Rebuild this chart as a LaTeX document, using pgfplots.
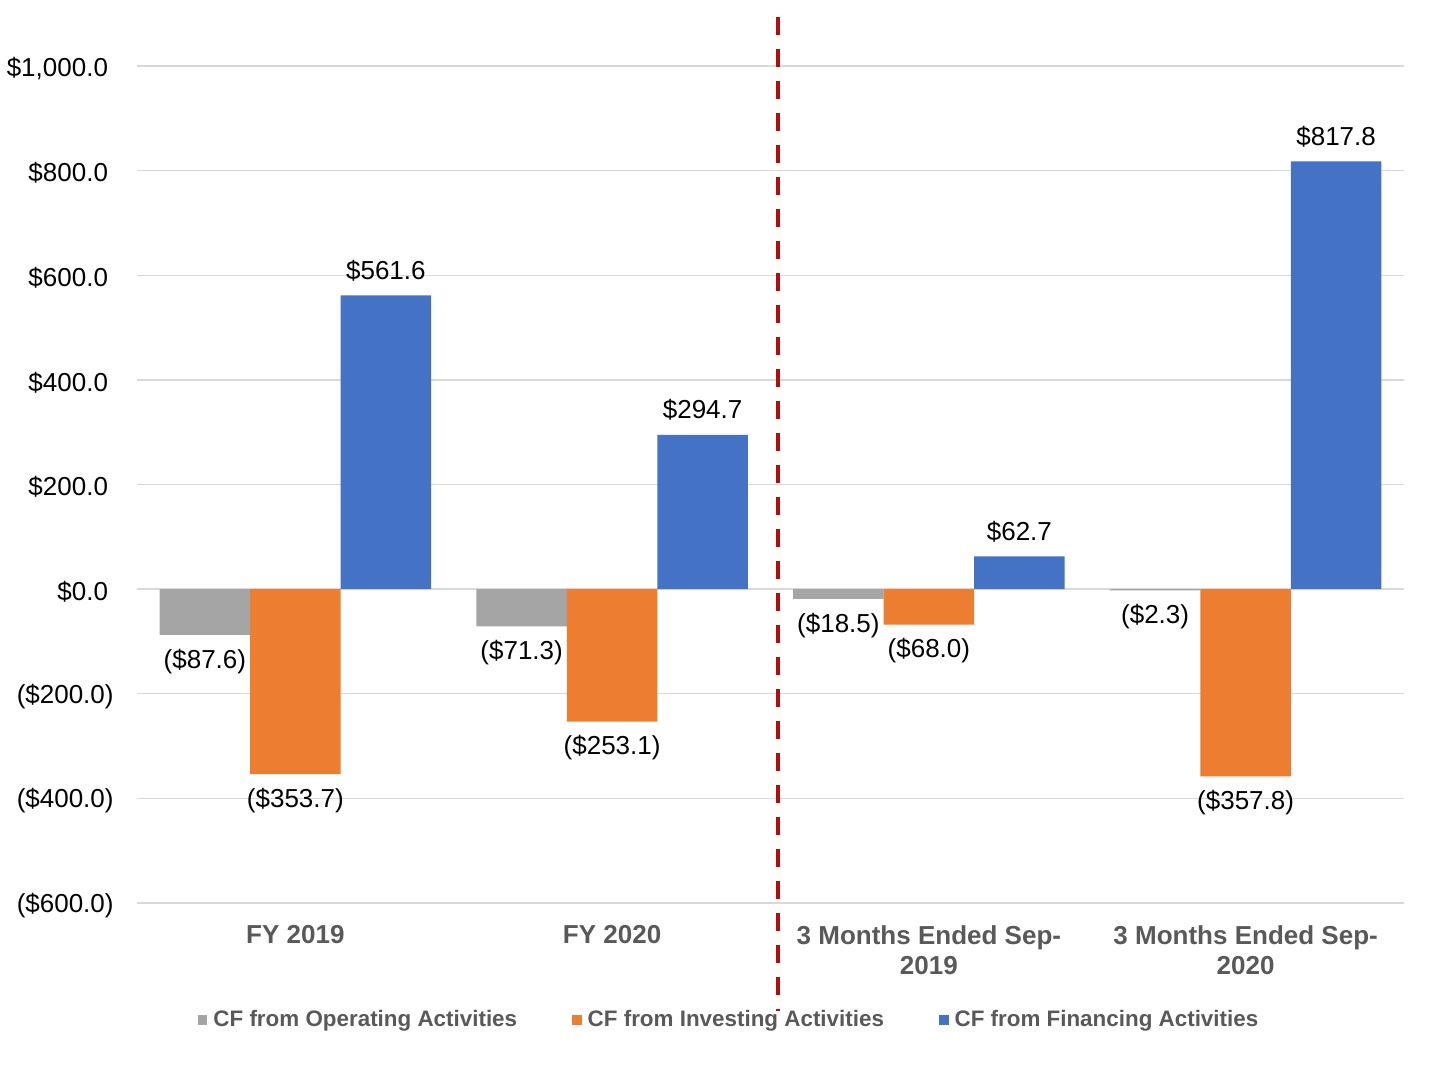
\documentclass[border=0pt]{standalone}
\usepackage{fontspec}
\setmainfont{Liberation Sans}
\usepackage{pgfplots}
\usepackage{pgfplotstable}
\pgfplotsset{compat=1.18}

\definecolor{opgray}{HTML}{A5A5A5}
\definecolor{invorange}{HTML}{ED7D31}
\definecolor{finblue}{HTML}{4472C4}
\definecolor{divred}{HTML}{B40D0D}
\definecolor{gridgray}{HTML}{D9D9D9}
\definecolor{labelgray}{HTML}{595959}

% Cash flow by activity, $ millions
\pgfplotstableread{
x y label
0 -87.6 (\$87.6)
1 -71.3 (\$71.3)
2 -18.5 (\$18.5)
3 -2.3 (\$2.3)
}\operating

\pgfplotstableread{
x y label
0 -353.7 (\$353.7)
1 -253.1 (\$253.1)
2 -68.0 (\$68.0)
3 -357.8 (\$357.8)
}\investing

\pgfplotstableread{
x y label
0 561.6 \$561.6
1 294.7 \$294.7
2 62.7 \$62.7
3 817.8 \$817.8
}\financing

% room left after positive amounts, where negatives have their closing parenthesis
\newcommand{\pos}{\rule{2.8pt}{0pt}}

\begin{document}
\begin{tikzpicture}
\useasboundingbox (0,0) rectangle (728pt,542pt);
\begin{axis}[
  at={(68.5pt,90.5pt)}, anchor=south west,
  scale only axis, width=633.5pt, height=418.5pt,
  xmin=-0.5, xmax=3.5, ymin=-600, ymax=1000,
  ybar=0pt, bar width=45.25pt,
  clip=false,
  axis line style={draw=none},
  major tick length=0pt,
  ymajorgrids, major grid style={gridgray, line width=0.7pt},
  ytick={-600,-400,-200,0,200,400,600,800,1000},
  yticklabels={(\$600.0),(\$400.0),(\$200.0),\$0.0\pos,\$200.0\pos,\$400.0\pos,\$600.0\pos,\$800.0\pos,\$1{,}000.0\pos},
  yticklabel style={anchor=east, inner sep=0pt, xshift=-11.5pt, yshift=-1.2pt, font=\fontsize{13}{15}\selectfont, text=black},
  xtick={0,1,2,3},
  xticklabels={FY 2019, FY 2020, {3 Months Ended Sep-\\2019}, {3 Months Ended Sep-\\2020}},
  xticklabel style={anchor=north, align=center, inner sep=0pt, yshift=-11pt, font=\fontsize{13}{15}\selectfont\bfseries, text=labelgray},
  point meta=explicit symbolic,
  nodes near coords,
  nodes near coords style={inner sep=7pt, font=\fontsize{13}{15}\selectfont, text=black},
  legend columns=3,
  legend style={at={(axis description cs:0.4665,-0.1398)}, anchor=center, draw=none, fill=none,
    font=\fontsize{11.2}{13}\selectfont\bfseries, text=labelgray,
    nodes={inner sep=0pt},
    /tikz/every odd column/.append style={column sep=3pt},
    /tikz/every even column/.append style={column sep=27.5pt}},
]
\addplot[fill=opgray, draw=none,
  every node near coord/.append style={yshift=-26.5pt},
  legend image code/.code={\fill[opgray] (0pt,-2.4pt) rectangle (4.8pt,2.4pt);}]
  table[x=x, y=y, meta=label] {\operating};
\addlegendentry{CF from Operating Activities}
\addplot[fill=invorange, draw=none,
  every node near coord/.append style={yshift=-26.5pt},
  legend image code/.code={\fill[invorange] (0pt,-2.4pt) rectangle (4.8pt,2.4pt);}]
  table[x=x, y=y, meta=label] {\investing};
\addlegendentry{CF from Investing Activities}
\addplot[fill=finblue, draw=none,
  legend image code/.code={\fill[finblue] (0pt,-2.4pt) rectangle (4.8pt,2.4pt);}]
  table[x=x, y=y, meta=label] {\financing};
\addlegendentry{CF from Financing Activities}
% divider between fiscal years and quarterly periods
\draw[divred, line width=2pt, dash pattern=on 9pt off 7pt] (axis cs:1.524,1093) -- (axis cs:1.524,-806);
\end{axis}
\end{tikzpicture}
\end{document}
